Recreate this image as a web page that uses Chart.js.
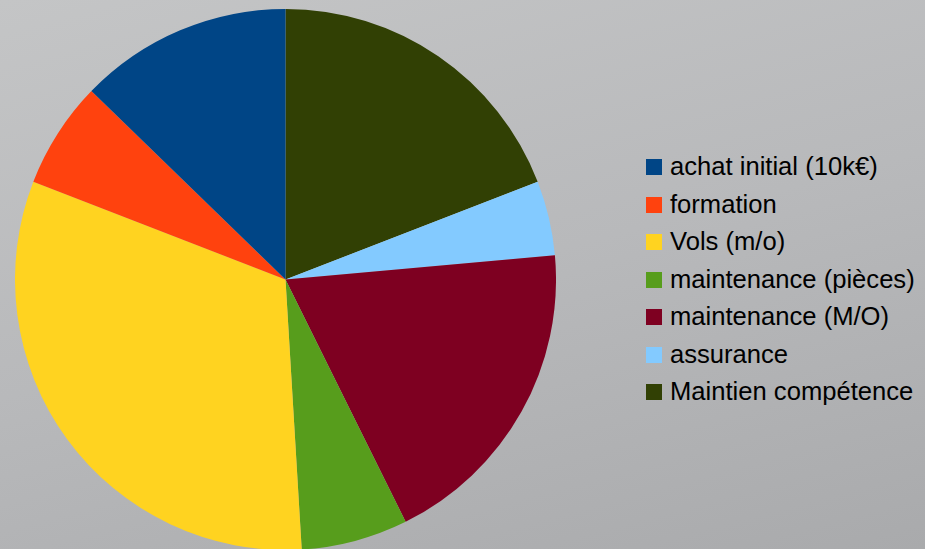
<!DOCTYPE html>
<html>
<head>
<meta charset="utf-8">
<script src="https://cdn.jsdelivr.net/npm/chart.js@4/dist/chart.umd.min.js"></script>
<style>
  html, body { margin: 0; padding: 0; }
  body {
    width: 925px; height: 549px; overflow: hidden; position: relative;
    background: linear-gradient(165deg, #c4c5c6 0%, #b8b9bb 50%, #a9aaac 100%);
    font-family: "Liberation Sans", Arial, sans-serif;
  }
  #wrap { position: absolute; left: 15px; top: 9px; width: 541px; height: 541px; }
  #legende { position: absolute; left: 646px; top: 148px; }
  #legende div { height: 37.5px; line-height: 37.5px; font-size: 25.6px; color: #000; white-space: nowrap; }
  #legende span { display: inline-block; width: 16px; height: 16px; margin-right: 8px; vertical-align: baseline; }
</style>
</head>
<body>
<div id="wrap"><canvas id="myChart"></canvas></div>
<div id="legende"></div>
<script>
const postes = ['achat initial (10k€)', 'formation', 'Vols (m/o)', 'maintenance (pièces)', 'maintenance (M/O)', 'assurance', 'Maintien compétence'];
const couts = [1000, 500, 2500, 500, 1500, 350, 1500];
const couleurs = ['#004586', '#ff420e', '#ffd320', '#579d1c', '#7e0021', '#83caff', '#314004'];

// la tarte tourne dans l'autre sens que Chart.js, donc on inverse
const labelsInv = postes.slice().reverse();
const dataInv = couts.slice().reverse();
const coulInv = couleurs.slice().reverse();

const ctx = document.getElementById('myChart').getContext('2d');
const chart = new Chart(ctx, {
    type: 'pie',
    data: {
        labels: labelsInv,
        datasets: [{
            data: dataInv,
            backgroundColor: coulInv,
            borderWidth: 0
        }]
    },
    options: {
        responsive: true,
        maintainAspectRatio: false,
        animation: false,
        layout: { padding: 0 },
        plugins: {
            legend: { display: false },
            tooltip: { enabled: false }
        }
    }
});

const leg = document.getElementById('legende');
for (let i in postes) {
    const d = document.createElement('div');
    const s = document.createElement('span');
    s.style.background = couleurs[i];
    d.appendChild(s);
    d.appendChild(document.createTextNode(postes[i]));
    leg.appendChild(d);
}
</script>
</body>
</html>
